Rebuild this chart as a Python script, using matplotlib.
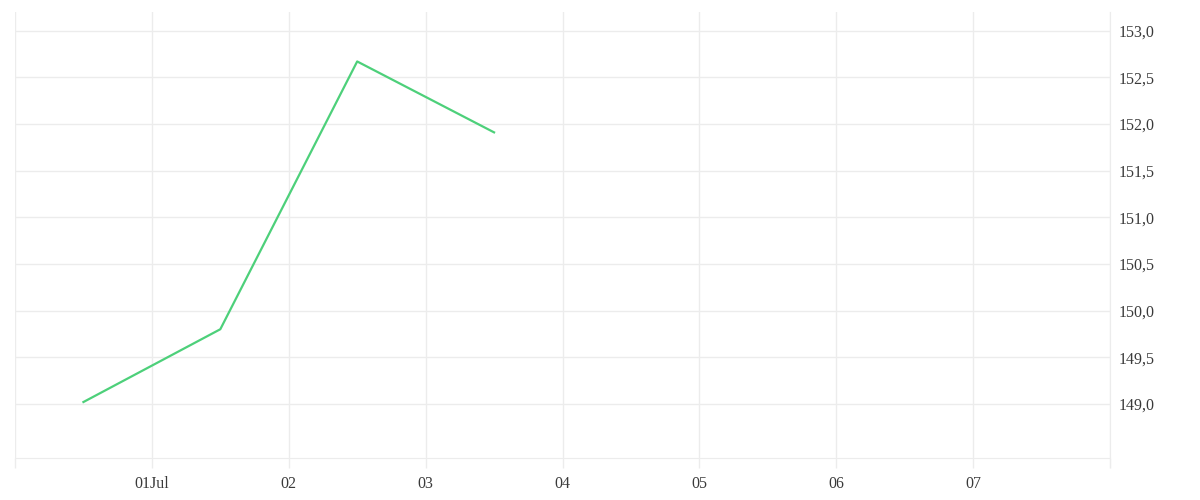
import matplotlib
matplotlib.use('Agg')
import matplotlib.pyplot as plt
import matplotlib.dates as mdates
from matplotlib.ticker import FuncFormatter
import numpy as np

# data
dates = np.array(['2024-06-30T12:00', '2024-07-01T12:00', '2024-07-02T12:00', '2024-07-03T12:00'], dtype='datetime64[m]')
values = [149.02, 149.80, 152.67, 151.91]

tick_days = np.arange(np.datetime64('2024-06-30'), np.datetime64('2024-07-09'), np.timedelta64(1, 'D'))
tick_labels = ['', '01Jul', '02', '03', '04', '05', '06', '07', '']
y_ticks = [149.0, 149.5, 150.0, 150.5, 151.0, 151.5, 152.0, 152.5, 153.0]

grid_col = '#ececec'
line_col = '#4dd07a'

plt.rcParams['font.family'] = ['Liberation Serif', 'DejaVu Serif']

fig = plt.figure(figsize=(12, 5), dpi=100)
ax = fig.add_axes([0.0125, 0.084, 0.9125, 0.892])

ax.plot(dates.astype('datetime64[ms]').astype(object), values, color=line_col, lw=1.6, zorder=3)

ax.set_xlim(mdates.date2num(np.datetime64('2024-06-30')), mdates.date2num(np.datetime64('2024-07-08')))
ax.set_ylim(148.42, 153.2)

ax.set_xticks(mdates.date2num(tick_days))
ax.set_xticklabels(tick_labels)
ax.set_yticks(y_ticks)
ax.yaxis.set_major_formatter(FuncFormatter(lambda v, p: f'{v:.1f}'.replace('.', ',')))
ax.yaxis.tick_right()

ax.grid(True, color=grid_col, lw=1)
ax.tick_params(axis='x', length=7, color=grid_col, width=1, pad=6, labelsize=11.5, labelcolor='#3a3a3a')
ax.tick_params(axis='y', length=0, pad=6, labelsize=11.5, labelcolor='#3a3a3a')

for s in ['top', 'left']:
    ax.spines[s].set_visible(False)
ax.spines['bottom'].set_color(grid_col)
ax.spines['right'].set_color(grid_col)
ax.spines['right'].set_bounds(148.42 - 0.1, 153.2)
ax.spines['right'].set_clip_on(False)

fig.savefig('out.png', dpi=100, facecolor='white')
